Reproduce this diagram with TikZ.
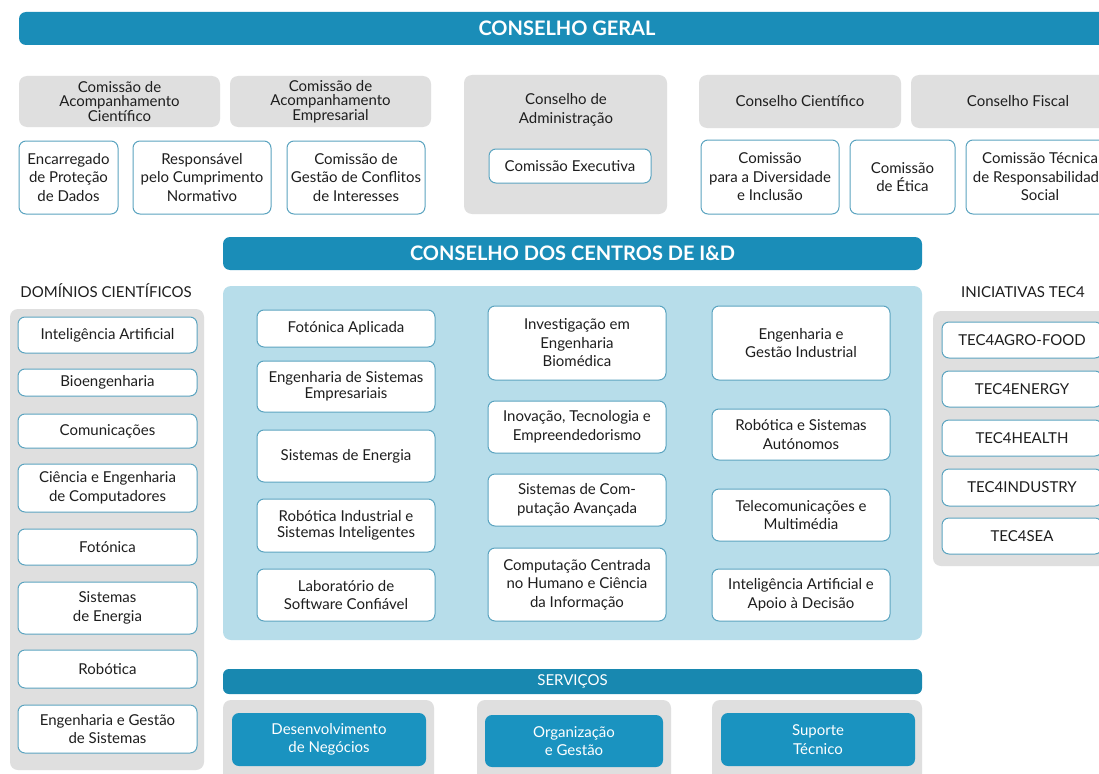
\documentclass[tikz,border=0pt]{standalone}
\usepackage{fontspec}
\setmainfont{Lato}
\definecolor{barblue}{HTML}{1A8DB8}
\definecolor{svcbar}{HTML}{1888B0}
\definecolor{svcbox}{HTML}{1A93C0}
\definecolor{graybg}{HTML}{DFDFDF}
\definecolor{panelblue}{HTML}{B7DDEA}
\definecolor{bord}{HTML}{5BA4C0}
\definecolor{txt}{HTML}{1E1E1E}
\newcommand\mybox[7]{\node[#1, minimum width={(#5)-(#3)}, minimum height={(#6)-(#4)}] (#2) at ({((#3)+(#5))/2},{((#4)+(#6))/2}) {#7};}
\begin{document}
\begin{tikzpicture}[x=1pt,y=-1pt,
  base/.style={inner sep=0pt, outer sep=0pt, align=center, text=txt, font=\fontsize{15}{18.5}\selectfont},
  wbox/.style={base, draw=bord, line width=1pt, fill=white, rounded corners=7pt},
  tbox/.style={wbox, font=\fontsize{15}{15.5}\selectfont},
  gbox/.style={base, fill=graybg, rounded corners=8pt, font=\fontsize{15}{14.5}\selectfont},
  panel/.style={base, rounded corners=8pt},
  titlebar/.style={base, fill=barblue, rounded corners=7pt, text=white, font=\fontsize{20}{22}\selectfont\bfseries},
  svcbarst/.style={base, fill=svcbar, rounded corners=6pt, text=white, font=\fontsize{15}{16}\selectfont},
  svcboxst/.style={base, fill=svcbox, rounded corners=7pt, text=white, font=\fontsize{15}{18.5}\selectfont},
  heading/.style={base, font=\fontsize{15}{16}\selectfont},
]
\useasboundingbox (0,0) rectangle (1099,773);
\clip (0,0) rectangle (1099,773);
\fill[white] (0,0) rectangle (1099,773);

% Conselho Geral
\mybox{titlebar}{geral}{19}{12}{1115}{45}{CONSELHO GERAL}

% top gray row
\mybox{gbox}{cacient}{19}{76}{220}{127}{Comissão de\\Acompanhamento\\Científico}
\mybox{gbox}{cacemp}{230}{76}{431}{127}{Comissão de\\Acompanhamento\\Empresarial}
\mybox{gbox}{cadm}{464}{75}{667}{214}{}
\node[base, font=\fontsize{15}{19}\selectfont] (cadmt) at (566,110) {Conselho de\\Administração};
\mybox{wbox}{cexec}{489}{149}{651}{183}{Comissão Executiva}
\mybox{gbox}{ccient}{699}{75}{901}{128}{Conselho Científico}
\mybox{gbox}{cfisc}{911}{75}{1125}{128}{Conselho Fiscal}

% white row
\mybox{wbox}{encarr}{19}{141}{118}{214}{Encarregado\\de Proteção\\de Dados}
\mybox{wbox}{respons}{133}{141}{271}{214}{Responsável\\pelo Cumprimento\\Normativo}
\mybox{wbox}{conflit}{287}{141}{425}{214}{Comissão de\\Gestão de Conflitos\\de Interesses}
\mybox{wbox}{divers}{701}{140}{839}{214}{Comissão\\para a Diversidade\\e Inclusão}
\mybox{wbox}{etica}{850}{140}{955}{214}{Comissão\\de Ética}
\mybox{wbox}{tecresp}{966}{140}{1114}{214}{Comissão Técnica\\de Responsabilidade\\Social}

% Conselho dos centros
\mybox{titlebar}{centros}{223}{237}{922}{270}{CONSELHO DOS CENTROS DE I\&D}
\mybox{panel, fill=panelblue}{cpanel}{223}{286}{922}{640}{}

% Dominios cientificos
\node[heading] (domt) at (106,291) {DOMÍNIOS CIENTÍFICOS};
\mybox{panel, fill=graybg}{dpanel}{10}{309}{204}{770}{}
\mybox{wbox}{d1}{18}{317}{197}{353}{Inteligência Artificial}
\mybox{wbox}{d2}{18}{369}{197}{396}{Bioengenharia}
\mybox{wbox}{d3}{18}{414}{197}{448}{Comunicações}
\mybox{wbox}{d4}{18}{464}{197}{512}{Ciência e Engenharia\\de Computadores}
\mybox{wbox}{d5}{18}{529}{197}{565}{Fotónica}
\mybox{wbox}{d6}{18}{582}{197}{634}{Sistemas\\de Energia}
\mybox{wbox}{d7}{18}{650}{197}{688}{Robótica}
\mybox{wbox}{d8}{18}{705}{197}{753}{Engenharia e Gestão\\de Sistemas}

% Centros column 1
\mybox{wbox}{c11}{257}{310}{435}{347}{Fotónica Aplicada}
\mybox{tbox}{c12}{257}{361}{435}{412}{Engenharia de Sistemas\\Empresariais}
\mybox{wbox}{c13}{257}{430}{435}{482}{Sistemas de Energia}
\mybox{tbox}{c14}{257}{499}{435}{552}{Robótica Industrial e\\Sistemas Inteligentes}
\mybox{wbox}{c15}{257}{569}{435}{621}{Laboratório de\\Software Confiável}
% column 2
\mybox{wbox}{c21}{488}{306}{666}{380}{Investigação em\\Engenharia\\Biomédica}
\mybox{wbox}{c22}{488}{401}{666}{453}{Inovação, Tecnologia e\\Empreendedorismo}
\mybox{wbox}{c23}{488}{474}{666}{526}{Sistemas de Com-\\putação Avançada}
\mybox{wbox}{c24}{488}{548}{666}{621}{Computação Centrada\\no Humano e Ciência\\da Informação}
% column 3
\mybox{wbox}{c31}{712}{306}{890}{380}{Engenharia e\\Gestão Industrial}
\mybox{wbox}{c32}{712}{409}{890}{460}{Robótica e Sistemas\\Autónomos}
\mybox{wbox}{c33}{712}{489}{890}{541}{Telecomunicações e\\Multimédia}
\mybox{wbox}{c34}{712}{569}{890}{621}{Inteligência Artificial e\\Apoio à Decisão}

% Iniciativas TEC4
\node[heading] (tect) at (1023,292) {INICIATIVAS TEC4};
\mybox{panel, fill=graybg}{tpanel}{933}{311}{1125}{566}{}
\mybox{wbox}{t1}{942}{322}{1102}{358}{TEC4AGRO-FOOD}
\mybox{wbox}{t2}{942}{371}{1102}{407}{TEC4ENERGY}
\mybox{wbox}{t3}{942}{420}{1102}{456}{TEC4HEALTH}
\mybox{wbox}{t4}{942}{469}{1102}{506}{TEC4INDUSTRY}
\mybox{wbox}{t5}{942}{518}{1102}{554}{TEC4SEA}

% Servicos
\mybox{svcbarst}{serv}{223}{669}{922}{694}{SERVIÇOS}
\mybox{panel, fill=graybg}{sp1}{223}{700}{434}{790}{}
\mybox{panel, fill=graybg}{sp2}{477}{700}{671}{790}{}
\mybox{panel, fill=graybg}{sp3}{712}{700}{922}{790}{}
\mybox{svcboxst}{s1}{232}{713}{426}{766}{Desenvolvimento\\de Negócios}
\mybox{svcboxst}{s2}{485}{715}{663}{767}{Organização\\e Gestão}
\mybox{svcboxst}{s3}{721}{713}{915}{766}{Suporte\\Técnico}
\end{tikzpicture}
\end{document}
